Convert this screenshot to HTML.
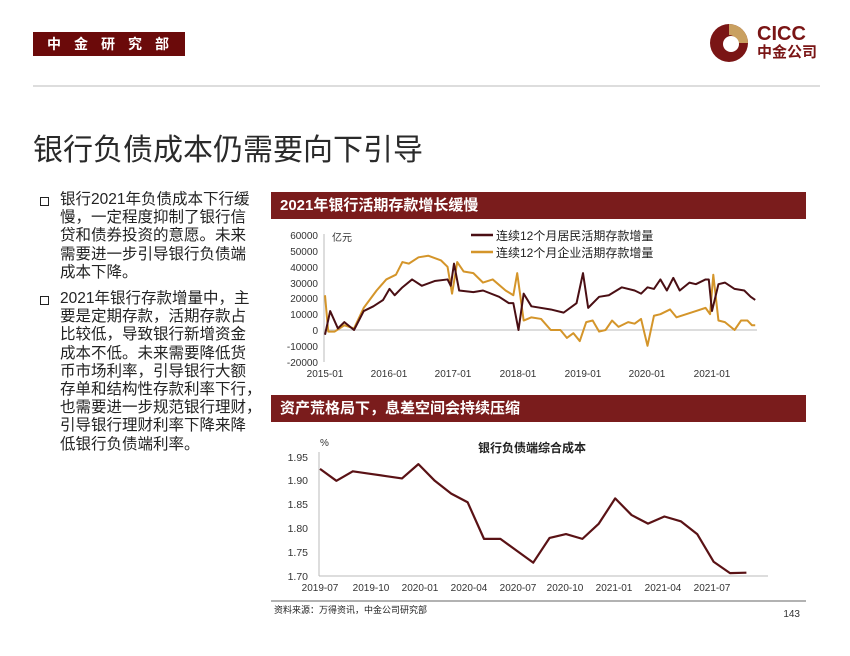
<!DOCTYPE html>
<html><head><meta charset="utf-8">
<style>
body{margin:0;width:850px;height:656px;background:#fff;position:relative;overflow:hidden;font-family:"Liberation Sans","Noto Sans CJK SC",sans-serif;}
.abs{position:absolute;}
.bar{background:#7a1c1c;color:#fff;font-weight:bold;font-size:15px;line-height:27px;padding-left:9px;box-sizing:border-box;}
.bul{font-size:15.5px;line-height:18.2px;color:#222;white-space:nowrap;}
.sq{position:absolute;width:7px;height:7px;border:1.5px solid #222;}
</style></head><body>
<div class="abs" style="left:33px;top:32px;width:152px;height:24px;background:#6b0a0a;color:#fff;font-weight:bold;font-size:14px;line-height:24px;letter-spacing:13px;padding-left:14px;box-sizing:border-box;">中金研究部</div>
<div class="abs" style="left:33px;top:85px;width:787px;height:2px;background:#ddd;"></div>
<svg class="abs" style="left:708px;top:22px" width="42" height="42" viewBox="0 0 42 42">
<circle cx="21" cy="21" r="19" fill="#7a1515"/>
<path d="M21 2 A19 19 0 0 1 40 21 L29 21 A8 8 0 0 0 21 13Z" fill="#c9a060"/>
<circle cx="23" cy="22" r="8" fill="#fff"/>
</svg>
<div class="abs" style="left:757px;top:24px;font-size:20px;font-weight:bold;color:#7a1515;line-height:20px;">CICC</div>
<div class="abs" style="left:757px;top:45px;font-size:15px;font-weight:bold;color:#7a1515;line-height:16px;">中金公司</div>
<div class="abs" style="left:33px;top:125px;font-size:30px;color:#2a2a2a;">银行负债成本仍需要向下引导</div>
<div class="sq" style="left:40px;top:197px"></div>
<div class="abs bul" style="left:60px;top:191px;">银行2021年负债成本下行缓<br>慢，一定程度抑制了银行信<br>贷和债券投资的意愿。未来<br>需要进一步引导银行负债端<br>成本下降。</div>
<div class="sq" style="left:40px;top:296px"></div>
<div class="abs bul" style="left:60px;top:290px;">2021年银行存款增量中，主<br>要是定期存款，活期存款占<br>比较低，导致银行新增资金<br>成本不低。未来需要降低货<br>币市场利率，引导银行大额<br>存单和结构性存款利率下行，<br>也需要进一步规范银行理财，<br>引导银行理财利率下降来降<br>低银行负债端利率。</div>
<div class="abs bar" style="left:271px;top:192px;width:535px;height:27px;">2021年银行活期存款增长缓慢</div>
<div class="abs bar" style="left:271px;top:395px;width:535px;height:27px;">资产荒格局下，息差空间会持续压缩</div>
<svg class="abs" style="left:0;top:0" width="850" height="656">
<g font-family="Liberation Sans" font-size="10" fill="#333" text-anchor="end">
<text x="318" y="239">60000</text><text x="318" y="255">50000</text><text x="318" y="271">40000</text><text x="318" y="287">30000</text><text x="318" y="302">20000</text><text x="318" y="318">10000</text><text x="318" y="334">0</text><text x="318" y="350">-10000</text><text x="318" y="366">-20000</text>
</g>
<line x1="324" y1="234" x2="324" y2="362" stroke="#bbb"/>
<line x1="324" y1="330" x2="757" y2="330" stroke="#bbb"/>
<g font-family="Liberation Sans" font-size="10" fill="#333" text-anchor="middle">
<text x="325" y="377">2015-01</text><text x="389" y="377">2016-01</text><text x="453" y="377">2017-01</text><text x="518" y="377">2018-01</text><text x="583" y="377">2019-01</text><text x="647" y="377">2020-01</text><text x="712" y="377">2021-01</text>
</g>
<text x="332" y="241" font-size="10" fill="#333" font-family="Noto Sans CJK SC">亿元</text>
<line x1="471" y1="235" x2="493" y2="235" stroke="#4a0f14" stroke-width="2.5"/>
<text x="496" y="240" font-size="12" fill="#222" font-family="Liberation Sans,Noto Sans CJK SC">连续12个月居民活期存款增量</text>
<line x1="471" y1="252" x2="493" y2="252" stroke="#d4952a" stroke-width="2.5"/>
<text x="496" y="257" font-size="12" fill="#222" font-family="Liberation Sans,Noto Sans CJK SC">连续12个月企业活期存款增量</text>
<g transform="translate(325,330) scale(0.0645,-0.158)" fill="none" stroke-linejoin="round">
<polyline vector-effect="non-scaling-stroke" stroke="#d4952a" stroke-width="2" points="0,220 50,-10 150,-10 300,30 450,10 600,140 800,250 950,320 1100,350 1200,430 1300,420 1450,460 1600,470 1800,440 1900,400 1970,230 2050,430 2150,370 2300,360 2450,300 2600,320 2800,250 2920,220 2980,360 3080,60 3200,80 3350,70 3500,0 3650,0 3750,-50 3850,-20 3950,-70 4050,50 4150,60 4250,-10 4350,0 4450,60 4550,20 4700,50 4800,40 4900,70 5000,-100 5100,90 5200,100 5350,130 5450,80 5600,100 5750,120 5900,140 5970,100 6020,350 6100,60 6200,50 6350,0 6450,60 6550,60 6620,30 6670,30"/>
<polyline vector-effect="non-scaling-stroke" stroke="#4a0f14" stroke-width="2" points="0,-30 80,120 200,10 300,50 450,0 600,120 750,150 900,190 1000,260 1080,220 1200,270 1350,320 1500,280 1700,310 1900,320 1950,280 2000,420 2080,250 2300,240 2450,250 2700,210 2850,170 2920,170 3000,0 3080,230 3200,150 3500,130 3700,110 3900,170 4000,360 4080,140 4250,210 4400,220 4600,270 4800,250 4900,230 5000,270 5100,260 5200,320 5300,250 5400,330 5500,250 5650,300 5750,290 5900,320 5950,320 6000,120 6100,290 6200,300 6350,260 6500,250 6600,210 6670,190"/>
</g>
<text x="532" y="452" font-size="12" font-weight="bold" fill="#222" text-anchor="middle" font-family="Noto Sans CJK SC">银行负债端综合成本</text>
<text x="320" y="446" font-size="10" fill="#333">%</text>
<g font-family="Liberation Sans" font-size="10.5" fill="#333" text-anchor="end">
<text x="308" y="461">1.95</text><text x="308" y="484">1.90</text><text x="308" y="508">1.85</text><text x="308" y="532">1.80</text><text x="308" y="556">1.75</text><text x="308" y="580">1.70</text>
</g>
<line x1="319" y1="452" x2="319" y2="576" stroke="#bbb"/>
<line x1="319" y1="576" x2="768" y2="576" stroke="#bbb"/>
<g font-family="Liberation Sans" font-size="10" fill="#333" text-anchor="middle">
<text x="320" y="591">2019-07</text><text x="371" y="591">2019-10</text><text x="420" y="591">2020-01</text><text x="469" y="591">2020-04</text><text x="518" y="591">2020-07</text><text x="565" y="591">2020-10</text><text x="614" y="591">2021-01</text><text x="663" y="591">2021-04</text><text x="712" y="591">2021-07</text>
</g>
<g transform="translate(320,576) scale(16.4,-4.76)" fill="none">
<polyline vector-effect="non-scaling-stroke" stroke="#5a1215" stroke-width="2.2" stroke-linejoin="round" points="0,22.5 1,20 2,22 3,21.5 4,21 5,20.5 6,23.5 7,20 8,17.3 9,15.5 10,7.8 11,7.8 12,5.3 13,2.8 14,8 15,8.8 16,7.8 17,11 18,16.3 19,12.8 20,11 21,12.5 22,11.5 23,8.8 24,3 25,0.6 26,0.7"/>
</g>
<line x1="271" y1="601" x2="806" y2="601" stroke="#999" stroke-width="1.5"/>
<text x="274" y="613" font-size="9" fill="#222" font-family="Noto Sans CJK SC">资料来源：万得资讯，中金公司研究部</text>
<text x="800" y="617" font-size="10" fill="#333" text-anchor="end" font-family="Liberation Sans">143</text>
</svg>
</body></html>
